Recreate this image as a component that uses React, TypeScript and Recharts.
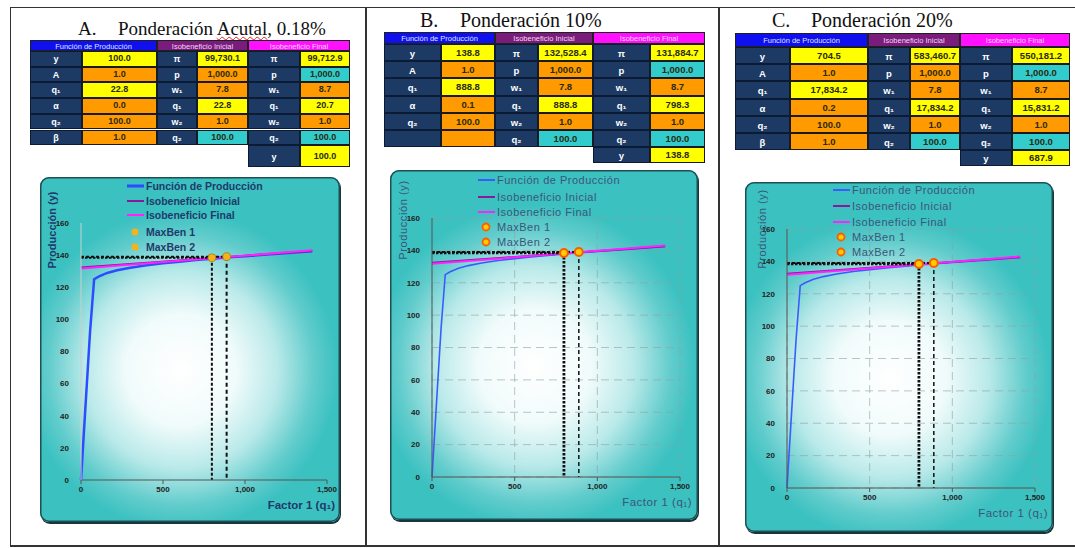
import React from "react";
import { ComposedChart, Line, Scatter, XAxis, YAxis, CartesianGrid } from "recharts";

const SANS = '"Liberation Sans", Arial, sans-serif';
const SERIF = '"Liberation Serif", "Times New Roman", serif';

// curves (the three panels show the same graph)
const PROD_Q1 = [0, 25, 55, 80, 110, 160, 220, 300, 400, 500, 600, 700, 800, 900, 1000, 1200, 1410];
const PROD_Y = [0, 42, 92, 125, 126.8, 128.9, 130.6, 132.2, 133.7, 134.9, 135.9, 136.9, 137.8, 138.6, 139.3, 140.8, 142.4];
const ISO_Q1 = [0, 1410];
const ISO_INITIAL_Y = [132.3, 142.6];
const ISO_FINAL_Y = [131.7, 143.0];
const MAXBEN_Q1 = [798, 888];
const MAXBEN_Y = [138.4, 139.0];
const X_TICKS = [0, 500, 1000, 1500];
const Y_TICKS = [0, 20, 40, 60, 80, 100, 120, 140, 160];
const LEGEND_NAMES = ["Función de Producción", "Isobeneficio Inicial", "Isobeneficio Final", "MaxBen 1", "MaxBen 2"];
const Y_TITLE = "Producción (y)";
const X_TITLE = "Factor 1 (q₁)";

// parameter tables
const HEADERS = ["Función de Producción", "Isobeneficio Inicial", "Isobeneficio Final"];
const FP_LABELS = ["y", "A", "q₁", "α", "q₂", "β"];
const II_LABELS = ["π", "p", "w₁", "q₁", "w₂", "q₂"];
const IF_LABELS = ["π", "p", "w₁", "q₁", "w₂", "q₂", "y"];

const A_FP = ["100.0", "1.0", "22.8", "0.0", "100.0", "1.0"];
const A_II = ["99,730.1", "1,000.0", "7.8", "22.8", "1.0", "100.0"];
const A_IF = ["99,712.9", "1,000.0", "8.7", "20.7", "1.0", "100.0", "100.0"];

const B_FP = ["138.8", "1.0", "888.8", "0.1", "100.0", ""];
const B_II = ["132,528.4", "1,000.0", "7.8", "888.8", "1.0", "100.0"];
const B_IF = ["131,884.7", "1,000.0", "8.7", "798.3", "1.0", "100.0", "138.8"];

const C_FP = ["704.5", "1.0", "17,834.2", "0.2", "100.0", "1.0"];
const C_II = ["583,460.7", "1,000.0", "7.8", "17,834.2", "1.0", "100.0"];
const C_IF = ["550,181.2", "1,000.0", "8.7", "15,831.2", "1.0", "100.0", "687.9"];

// cell colours
const CELL = { Y: "#ffff00", O: "#ff9a00", C: "#33cccc" };
const FP_FILLS = ["Y", "O", "Y", "O", "O", "O"];
const II_FILLS = ["Y", "O", "O", "Y", "O", "C"];
const IF_FILLS = ["Y", "C", "O", "Y", "O", "C", "Y"];
const HEAD_BG = ["#1010ee", "#7a1c7c", "#ff10ff"];
const HEAD_FG = ["#dfe6ff", "#f3d6f3", "#ffd8ff"];
const NAVY = "#1c3a64";

const toPts = (xs, ys) => xs.map((x, i) => ({ x, y: ys[i] }));
const prodData = toPts(PROD_Q1, PROD_Y);
const isoInitial = toPts(ISO_Q1, ISO_INITIAL_Y);
const isoFinal = toPts(ISO_Q1, ISO_FINAL_Y);
const mb1 = [{ x: MAXBEN_Q1[0], y: MAXBEN_Y[0] }];
const mb2 = [{ x: MAXBEN_Q1[1], y: MAXBEN_Y[1] }];
const hGuide1 = [{ x: 0, y: MAXBEN_Y[0] }, mb1[0]];
const hGuide2 = [{ x: 0, y: MAXBEN_Y[1] }, mb2[0]];
const vGuide1 = [mb1[0], { x: MAXBEN_Q1[0], y: 0 }];
const vGuide2 = [mb2[0], { x: MAXBEN_Q1[1], y: 0 }];

const PANELS = [
  {
    letter: "A.", title: "Ponderación ", wavy: "Acutal", tail: ", 0.18%",
    letterLeft: 78, textLeft: 118, titleTop: 18.6, titleSize: 19,
    table: { left: 30, top: 40, cols: [52, 75, 40, 51, 52, 50], headH: 11, rowH: 15.7, extraH: 22, font: 9 },
    values: [A_FP, A_II, A_IF],
    box: { left: 40, top: 177, width: 300, height: 345 },
    margin: { top: 46, right: 13, bottom: 12, left: 11 },
    classic: true,
    legend: { left: 87, rows: [9, 24, 38, 55, 70] },
    yTitle: { cx: 12, cy: 53 }, xTitle: { right: 5, cy: 328 },
  },
  {
    letter: "B.", title: "Ponderación 10%", wavy: "", tail: "",
    letterLeft: 420, textLeft: 460, titleTop: 9.6, titleSize: 20,
    table: { left: 384, top: 32, cols: [57, 54, 43, 55, 57, 55], headH: 12, rowH: 17.2, extraH: 16, font: 9.5 },
    values: [B_FP, B_II, B_IF],
    box: { left: 390, top: 170, width: 308, height: 350 },
    margin: { top: 48, right: 18, bottom: 13, left: 12 },
    classic: false,
    legend: { left: 88, rows: [10, 27, 42, 57, 72] },
    yTitle: { cx: 13, cy: 50 }, xTitle: { right: 6, cy: 332 },
  },
  {
    letter: "C.", title: "Ponderación 20%", wavy: "", tail: "",
    letterLeft: 772, textLeft: 811, titleTop: 9.6, titleSize: 20,
    table: { left: 735, top: 33, cols: [55, 78, 42, 50, 52, 58], headH: 14, rowH: 17.2, extraH: 16, font: 9.5 },
    values: [C_FP, C_II, C_IF],
    box: { left: 745, top: 182, width: 308, height: 350 },
    margin: { top: 47, right: 18, bottom: 14, left: 12 },
    classic: false,
    legend: { left: 88, rows: [8, 24, 40, 55, 70] },
    yTitle: { cx: 17, cy: 47 }, xTitle: { right: 5, cy: 331 },
  },
];

function ParamTable({ t, values }) {
  const groups = [
    { labels: FP_LABELS, fills: FP_FILLS },
    { labels: II_LABELS, fills: II_FILLS },
    { labels: IF_LABELS, fills: IF_FILLS },
  ];
  let x = 0;
  return (
    <div style={{ position: "absolute", left: t.left, top: t.top, fontFamily: SANS }}>
      {groups.map((g, gi) => {
        const lw = t.cols[gi * 2];
        const vw = t.cols[gi * 2 + 1];
        const gx = x;
        x += lw + vw;
        const vals = values[gi];
        return (
          <div key={gi}>
            <div style={{ position: "absolute", left: gx, top: 0, width: lw + vw, height: t.headH, background: HEAD_BG[gi], color: HEAD_FG[gi], fontSize: 7.5, lineHeight: t.headH + "px", textAlign: "center", whiteSpace: "nowrap", overflow: "hidden", boxSizing: "border-box", border: "1px solid #202020" }}>
              {HEADERS[gi]}
            </div>
            {vals.map((v, i) => {
              const top = t.headH + i * t.rowH;
              const h = i === 6 ? t.extraH : t.rowH;
              return (
                <div key={i}>
                  <div style={{ position: "absolute", left: gx, top, width: lw, height: h, background: NAVY, color: "#ffffff", fontWeight: 700, fontSize: t.font, lineHeight: h + "px", textAlign: "center", boxSizing: "border-box", border: "1px solid #0b1b33" }}>
                    {v === "" ? "" : g.labels[i]}
                  </div>
                  <div style={{ position: "absolute", left: gx + lw, top, width: vw, height: h, background: CELL[g.fills[i]], color: "#2a2a10", fontWeight: 700, fontSize: t.font, lineHeight: h - 2 + "px", textAlign: "center", boxSizing: "border-box", border: "1px solid #1a1a1a", whiteSpace: "nowrap" }}>
                    {v}
                  </div>
                </div>
              );
            })}
          </div>
        );
      })}
    </div>
  );
}

function Swatch({ i, classic }) {
  const lineColors = [classic ? "#2b4cff" : "#3a5cff", "#8a1a9a", "#ff22ff"];
  const widths = [classic ? 3 : 2, 2, 2];
  if (i < 3) {
    return (
      <svg width={17} height={12}>
        <line x1={0} y1={6} x2={17} y2={6} stroke={lineColors[i]} strokeWidth={widths[i]} />
      </svg>
    );
  }
  return (
    <svg width={17} height={12}>
      {classic ? (
        <circle cx={8} cy={6} r={3.5} fill="#f5b21a" />
      ) : (
        <circle cx={8} cy={6} r={3.5} fill="#ffcc00" stroke="#ff5a00" strokeWidth={1.8} />
      )}
    </svg>
  );
}

function ProdChart({ p }) {
  const { box, margin, classic } = p;
  const tickStyle = { fontSize: 8, fill: "#222", fontWeight: 700, fontFamily: SANS };
  const textColor = classic ? "#1f3a6a" : "#3b5678";
  const markerShape = (props) =>
    classic ? (
      <circle cx={props.cx} cy={props.cy} r={4} fill="#f5b21a" stroke="#8a6a10" strokeWidth={0.6} />
    ) : (
      <circle cx={props.cx} cy={props.cy} r={4} fill="#ffcc00" stroke="#ff5a00" strokeWidth={2} />
    );
  return (
    <div
      style={{
        position: "absolute", left: box.left, top: box.top, width: box.width, height: box.height,
        borderRadius: 9, overflow: "hidden",
        background: "radial-gradient(ellipse 52% 46% at 47% 56%, #ffffff 0%, #f1fbfb 35%, #b9e9e9 62%, #62cccc 85%, #3cc1c1 100%)",
        boxShadow: "inset 0 0 0 1.5px #1f4f55, 1px 2px 0 #16383c",
      }}
    >
      <ComposedChart width={box.width} height={box.height} margin={margin} style={{ position: "absolute", left: 0, top: 0 }}>
        {!classic && <CartesianGrid stroke="#8fa0a0" strokeOpacity={0.6} strokeDasharray="8 5" />}
        <XAxis type="number" dataKey="x" domain={[0, 1500]} ticks={X_TICKS} height={30}
          tickFormatter={(v) => v.toLocaleString("en-US")} tick={tickStyle}
          axisLine={{ stroke: "#555" }} tickLine={{ stroke: "#555" }} tickSize={4} />
        <YAxis type="number" dataKey="y" domain={[0, 160]} ticks={Y_TICKS} width={30} tick={tickStyle}
          axisLine={{ stroke: classic ? "#c8d0d0" : "#555" }} tickLine={false} tickMargin={6} />
        <Line data={prodData} dataKey="y" type="linear" stroke={classic ? "#2b4cff" : "#3a5cff"} strokeWidth={classic ? 2.5 : 1.6} dot={false} isAnimationActive={false} />
        <Line data={isoInitial} dataKey="y" type="linear" stroke="#8a1a9a" strokeWidth={2} dot={false} isAnimationActive={false} />
        <Line data={isoFinal} dataKey="y" type="linear" stroke="#ff22ff" strokeWidth={2} dot={false} isAnimationActive={false} />
        <Line data={hGuide2} dataKey="y" type="linear" stroke="#111" strokeWidth={2} strokeDasharray="3 2" dot={false} isAnimationActive={false} />
        <Line data={hGuide1} dataKey="y" type="linear" stroke="#111" strokeWidth={classic ? 2 : 2.8} strokeDasharray="2.5 1.5" dot={false} isAnimationActive={false} />
        <Line data={vGuide1} dataKey="y" type="linear" stroke="#111" strokeWidth={classic ? 2 : 2.8} strokeDasharray={classic ? "3 2" : "2.5 1.5"} dot={false} isAnimationActive={false} />
        <Line data={vGuide2} dataKey="y" type="linear" stroke="#111" strokeWidth={classic ? 2 : 1.5} strokeDasharray="4 3" dot={false} isAnimationActive={false} />
        <Scatter data={mb1} dataKey="y" shape={markerShape} isAnimationActive={false} />
        <Scatter data={mb2} dataKey="y" shape={markerShape} isAnimationActive={false} />
      </ComposedChart>

      {/* legend, drawn over the top of the plot as in the original */}
      {LEGEND_NAMES.map((name, i) => (
        <div key={name} style={{ position: "absolute", left: p.legend.left, top: p.legend.rows[i] - 6, height: 12, display: "flex", alignItems: "center", whiteSpace: "nowrap", fontFamily: SANS, fontSize: classic ? 10.5 : 11, fontWeight: classic ? 700 : 400, letterSpacing: classic ? 0 : 0.5, color: textColor }}>
          <Swatch i={i} classic={classic} />
          <span style={{ marginLeft: 2 }}>{name}</span>
        </div>
      ))}

      <div style={{ position: "absolute", left: p.yTitle.cx, top: p.yTitle.cy, transform: "translate(-50%, -50%) rotate(-90deg)", whiteSpace: "nowrap", fontFamily: SANS, fontSize: 11, fontWeight: classic ? 700 : 400, letterSpacing: classic ? 0 : 0.6, color: textColor }}>
        {Y_TITLE}
      </div>
      <div style={{ position: "absolute", right: p.xTitle.right, top: p.xTitle.cy - 8, lineHeight: "16px", whiteSpace: "nowrap", fontFamily: SANS, fontSize: classic ? 11.5 : 11.5, fontWeight: classic ? 700 : 400, letterSpacing: classic ? 0 : 0.5, color: textColor }}>
        {X_TITLE}
      </div>
    </div>
  );
}

function Panel({ p }) {
  return (
    <>
      <div style={{ position: "absolute", left: p.letterLeft, top: p.titleTop, fontFamily: SERIF, fontSize: p.titleSize, lineHeight: "20px", color: "#111", whiteSpace: "nowrap" }}>
        {p.letter}
      </div>
      <div style={{ position: "absolute", left: p.textLeft, top: p.titleTop, fontFamily: SERIF, fontSize: p.titleSize, lineHeight: "20px", color: "#111", whiteSpace: "nowrap" }}>
        {p.title}
        {p.wavy && <span style={{ textDecoration: "underline wavy #e02020", textDecorationThickness: 1 }}>{p.wavy}</span>}
        {p.tail}
      </div>
      <ParamTable t={p.table} values={p.values} />
      <ProdChart p={p} />
    </>
  );
}

export default function App() {
  return (
    <div style={{ position: "absolute", left: 0, top: 0, width: 1075, height: 548, background: "#ffffff", overflow: "hidden" }}>
      {/* page frame */}
      <div style={{ position: "absolute", left: 10, top: 7, width: 1065, height: 1, background: "#333" }} />
      <div style={{ position: "absolute", left: 10, top: 7, width: 1, height: 539, background: "#333" }} />
      <div style={{ position: "absolute", left: 365, top: 7, width: 1.5, height: 539, background: "#333" }} />
      <div style={{ position: "absolute", left: 718, top: 7, width: 1.5, height: 539, background: "#333" }} />
      <div style={{ position: "absolute", left: 10, top: 545, width: 1065, height: 2, background: "#333" }} />
      {PANELS.map((p) => (
        <Panel key={p.letter} p={p} />
      ))}
    </div>
  );
}
